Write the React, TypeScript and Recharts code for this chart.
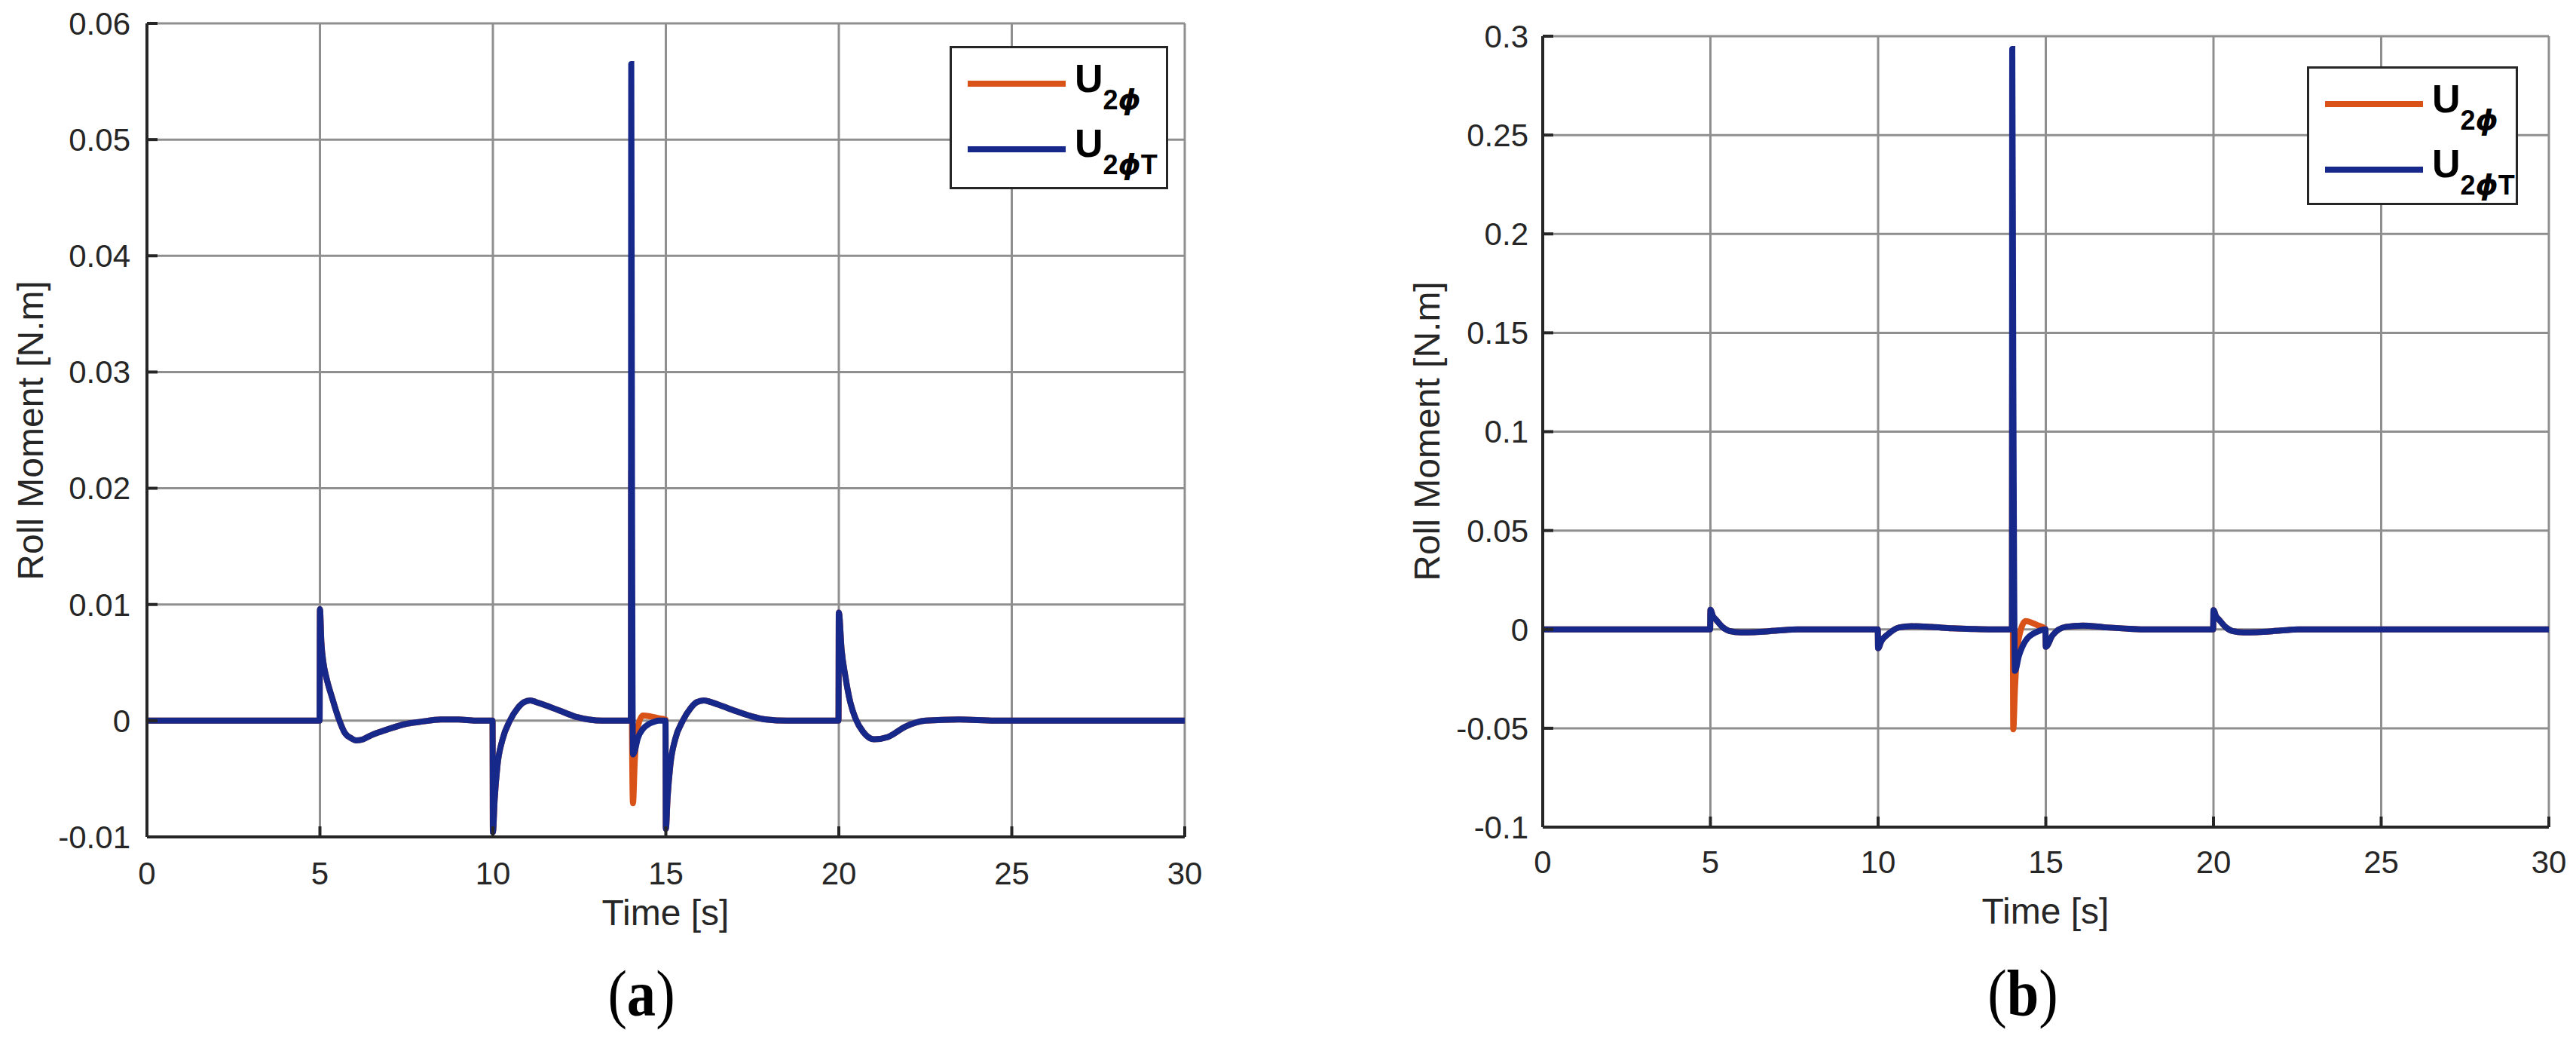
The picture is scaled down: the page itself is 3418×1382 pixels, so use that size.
import { LineChart, Line, XAxis, YAxis, CartesianGrid } from "recharts";

// panel (a) samples
const timeA = [
  0, 4.99, 5.0, 5.04, 5.1, 5.18, 5.36, 5.54, 5.73, 5.9, 6.05, 6.25, 6.45, 6.7, 7.0, 7.45, 7.9, 8.5, 9.0, 9.5,
  9.99, 10.0, 10.05, 10.13, 10.27, 10.49, 10.72, 10.9, 11.08, 11.25, 11.45, 11.9, 12.44, 13.16, 13.5,
  13.99, 14.0, 14.02, 14.05, 14.1, 14.19, 14.34, 14.5, 14.66, 14.8, 14.99,
  15.0, 15.05, 15.13, 15.27, 15.49, 15.72, 15.9, 16.1, 16.3, 16.5, 16.95, 17.45, 17.9, 18.5,
  19.99, 20.0, 20.08, 20.19, 20.33, 20.48, 20.7, 21.02, 21.42, 21.93, 22.51, 23.5, 24.5, 30,
];
const u2PhiTA = [
  0, 0, 0.0096, 0.0068, 0.005, 0.0038, 0.0019, 0.0002, -0.0011, -0.0015, -0.0017, -0.0016, -0.0013, -0.001, -0.0007, -0.0003, -0.0001, 0.0001, 0.0001, 0,
  0, -0.0096, -0.0068, -0.0039, -0.0017, 0, 0.0011, 0.0016, 0.00175, 0.0016, 0.0014, 0.0009, 0.0003, 0, 0,
  0, 0.0565, 0.0215, -0.0029, -0.0026, -0.0015, -0.0007, -0.0003, -0.0001, 0, 0,
  -0.0093, -0.0066, -0.0038, -0.0016, 0, 0.0011, 0.0016, 0.00175, 0.0016, 0.0014, 0.0009, 0.0004, 0.0001, 0,
  0, 0.0093, 0.0061, 0.0038, 0.0016, 0.0002, -0.00095, -0.0016, -0.0014, -0.0005, 0, 0.0001, 0, 0,
];
const u2PhiA = [
  0, 0, 0.0096, 0.0068, 0.005, 0.0038, 0.0019, 0.0002, -0.0011, -0.0015, -0.0017, -0.0016, -0.0013, -0.001, -0.0007, -0.0003, -0.0001, 0.0001, 0.0001, 0,
  0, -0.0096, -0.0068, -0.0039, -0.0017, 0, 0.0011, 0.0016, 0.00175, 0.0016, 0.0014, 0.0009, 0.0003, 0, 0,
  0, 0.0215, 0, -0.0071, -0.0035, -0.0005, 0.00045, 0.0004, 0.0003, 0.0002, 0.0001,
  -0.0093, -0.0066, -0.0038, -0.0016, 0, 0.0011, 0.0016, 0.00175, 0.0016, 0.0014, 0.0009, 0.0004, 0.0001, 0,
  0, 0.0093, 0.0061, 0.0038, 0.0016, 0.0002, -0.00095, -0.0016, -0.0014, -0.0005, 0, 0.0001, 0, 0,
];

// panel (b) samples
const timeB = [
  0, 4.99, 5.0, 5.08, 5.16, 5.36, 5.56, 5.9, 6.3, 7.0, 7.6,
  9.99, 10.0, 10.1, 10.29, 10.63, 11.0, 11.6, 12.2, 12.8, 13.3,
  13.99, 14.0, 14.03, 14.08, 14.2, 14.4, 14.74, 14.99,
  15.0, 15.2, 15.6, 16.1, 16.8, 17.5, 18.0,
  19.99, 20.0, 20.08, 20.16, 20.36, 20.56, 20.9, 21.3, 22.0, 22.6, 30,
];
const u2PhiTB = [
  0, 0, 0.0099, 0.0065, 0.005, 0.0012, -0.0008, -0.0015, -0.0014, -0.0006, 0,
  0, -0.0095, -0.0058, -0.0025, 0.001, 0.0016, 0.0012, 0.0006, 0.0002, 0,
  0, 0.2935, 0.13, -0.021, -0.0133, -0.0057, -0.0012, 0,
  -0.0088, -0.003, 0.0013, 0.0019, 0.001, 0.0003, 0,
  0, 0.0097, 0.0065, 0.005, 0.0012, -0.0008, -0.0015, -0.0014, -0.0006, 0, 0,
];
const u2PhiB = [
  0, 0, 0.0099, 0.0065, 0.005, 0.0012, -0.0008, -0.0015, -0.0014, -0.0006, 0,
  0, -0.0095, -0.0058, -0.0025, 0.001, 0.0016, 0.0012, 0.0006, 0.0002, 0,
  0, 0.13, -0.0505, -0.03, -0.004, 0.0042, 0.0022, 0.0003,
  -0.0088, -0.003, 0.0013, 0.0019, 0.001, 0.0003, 0,
  0, 0.0097, 0.0065, 0.005, 0.0012, -0.0008, -0.0015, -0.0014, -0.0006, 0, 0,
];

const xTicks = [0, 5, 10, 15, 20, 25, 30];
const yTicksA = [-0.01, 0, 0.01, 0.02, 0.03, 0.04, 0.05, 0.06];
const yTicksB = [-0.1, -0.05, 0, 0.05, 0.1, 0.15, 0.2, 0.25, 0.3];
const seriesNames = ["U2ϕ", "U2ϕT"];
const COLORS = ["#D95319", "#16298B"];

const AXIS = "#262626";
const FONT = "'Liberation Sans', Arial, sans-serif";

function LegendBox({ w, h }: { w: number; h: number }) {
  const rows = [
    { line: 50, base: 61 },
    { line: 137, base: 147 },
  ];
  return (
    <svg width={w} height={h} style={{ display: "block" }}>
      <rect x={1.5} y={1.5} width={w - 3} height={h - 3} fill="#fff" stroke={AXIS} strokeWidth={3} />
      {seriesNames.map((name, i) => (
        <g key={name}>
          <line x1={24} x2={154} y1={rows[i].line} y2={rows[i].line} stroke={COLORS[i]} strokeWidth={8} />
          <text x={166} y={rows[i].base} fontFamily={FONT} fontWeight="bold" fontSize={52} fill="#000">
            {name[0]}
            <tspan fontSize={36} dy={23}>{name[1]}</tspan>
            <tspan fontSize={38} fontStyle="italic" fontFamily="'DejaVu Sans', sans-serif">{name[2]}</tspan>
            {name.length > 3 ? <tspan fontSize={36}>{name.slice(3)}</tspan> : null}
          </text>
        </g>
      ))}
    </svg>
  );
}

interface PanelProps {
  time: number[];
  phi: number[];
  phiT: number[];
  yTicks: number[];
  width: number;
  margin: { top: number; right: number; bottom: number; left: number };
  yAxisWidth: number;
  tickGap: number;
  xLabelGap: number;
}

function Panel({ time, phi, phiT, yTicks, width, margin, yAxisWidth, tickGap, xLabelGap }: PanelProps) {
  const data = time.map((t, i) => ({ t, u2Phi: phi[i], u2PhiT: phiT[i] }));
  const domain: [number, number] = [yTicks[0], yTicks[yTicks.length - 1]];
  const tickStyle = { fontSize: 42, fill: AXIS, fontFamily: FONT };
  const lineStyle = { stroke: AXIS, strokeWidth: 4 };
  return (
    <LineChart width={width} height={1382} data={data} margin={margin}>
      <CartesianGrid stroke="#8f8f8f" strokeWidth={3} />
      <XAxis
        dataKey="t"
        type="number"
        domain={[0, 30]}
        ticks={xTicks}
        height={60}
        tickSize={-14}
        tickMargin={xLabelGap}
        tick={tickStyle}
        axisLine={lineStyle}
        tickLine={lineStyle}
        allowDataOverflow
      />
      <XAxis
        xAxisId="top"
        orientation="top"
        dataKey="t"
        type="number"
        domain={[0, 30]}
        ticks={xTicks}
        height={0}
        tickSize={-14}
        tickFormatter={() => ""}
        axisLine={lineStyle}
        tickLine={lineStyle}
      />
      <YAxis
        type="number"
        domain={domain}
        ticks={yTicks}
        width={yAxisWidth}
        tickSize={-14}
        tickMargin={tickGap}
        tick={tickStyle}
        tickFormatter={(v: number) => String(v)}
        axisLine={lineStyle}
        tickLine={lineStyle}
        allowDataOverflow
      />
      <YAxis
        yAxisId="right"
        orientation="right"
        type="number"
        domain={domain}
        ticks={yTicks}
        width={0}
        tickSize={-14}
        tickFormatter={() => ""}
        axisLine={lineStyle}
        tickLine={lineStyle}
      />
      <Line
        type="monotone"
        dataKey="u2Phi"
        name={seriesNames[0]}
        stroke={COLORS[0]}
        strokeWidth={8}
        dot={false}
        activeDot={false}
        isAnimationActive={false}
      />
      <Line
        type="monotone"
        dataKey="u2PhiT"
        name={seriesNames[1]}
        stroke={COLORS[1]}
        strokeWidth={8}
        dot={false}
        activeDot={false}
        isAnimationActive={false}
      />
    </LineChart>
  );
}

export default function App() {
  return (
    <div style={{ position: "absolute", left: 0, top: 0, width: 3418, height: 1382, background: "#fff", overflow: "hidden" }}>
      <div style={{ position: "absolute", left: 0, top: 0 }}>
        <Panel
          time={timeA}
          phi={u2PhiA}
          phiT={u2PhiTA}
          yTicks={yTicksA}
          width={1700}
          margin={{ top: 31, right: 128, bottom: 212, left: 0 }}
          yAxisWidth={195}
          tickGap={36}
          xLabelGap={47}
        />
      </div>
      <div style={{ position: "absolute", left: 1260, top: 61 }}>
        <LegendBox w={290} h={190} />
      </div>
      <div style={{ position: "absolute", left: 1700, top: 0 }}>
        <Panel
          time={timeB}
          phi={u2PhiB}
          phiT={u2PhiTB}
          yTicks={yTicksB}
          width={1718}
          margin={{ top: 48, right: 36, bottom: 225, left: 0 }}
          yAxisWidth={347}
          tickGap={33}
          xLabelGap={45}
        />
      </div>
      <div style={{ position: "absolute", left: 3061, top: 88 }}>
        <LegendBox w={280} h={184} />
      </div>
      <svg width={3418} height={1382} style={{ position: "absolute", left: 0, top: 0, pointerEvents: "none" }}>
        <g fontFamily={FONT} fill={AXIS}>
          <text x={883} y={1227} fontSize={48} textAnchor="middle">Time [s]</text>
          <text x={2714} y={1225} fontSize={48} textAnchor="middle">Time [s]</text>
          <text transform="translate(57,571) rotate(-90)" fontSize={48} textAnchor="middle">Roll Moment [N.m]</text>
          <text transform="translate(1910,572) rotate(-90)" fontSize={48} textAnchor="middle">Roll Moment [N.m]</text>
        </g>
        <g fontFamily="'Liberation Serif', 'Times New Roman', serif" fill="#000" fontSize={86}>
          <text transform="translate(851,1347) scale(0.89,1)" textAnchor="middle">
            (<tspan fontWeight="bold">a</tspan>)
          </text>
          <text transform="translate(2684,1346) scale(0.89,1)" textAnchor="middle">
            (<tspan fontWeight="bold">b</tspan>)
          </text>
        </g>
      </svg>
    </div>
  );
}
